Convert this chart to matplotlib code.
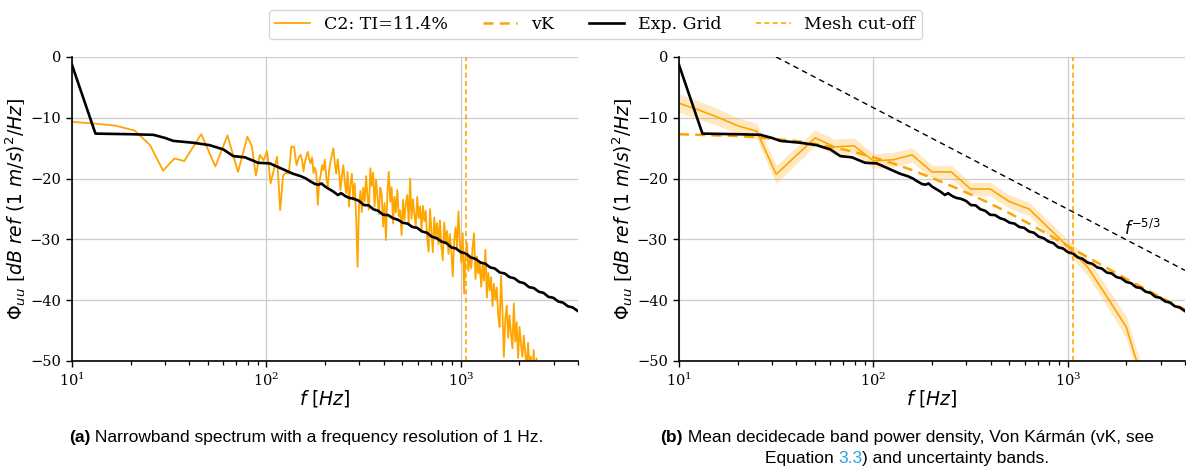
import numpy as np
import matplotlib
matplotlib.use("Agg")
import matplotlib.pyplot as plt

# ---------------- data ----------------
# Narrowband C2 spectrum (left panel)
nb_freq_low = [8.4, 12.6, 16.8, 21.0, 25.2, 29.4, 33.6, 37.8, 46.2, 54.6, 63.0, 71.4, 79.8, 84.0,
               88.2, 92.4, 96.6, 100.8, 105.0, 109.2, 113.4, 117.6, 121.8, 126.0, 130.2, 134.4,
               138.6, 142.8, 147.0]
nb_db_low = [-10.5, -10.9, -11.3, -12.1, -14.5, -18.7, -16.7, -17.1, -12.7, -18.0, -12.9, -18.9,
             -13.1, -14.6, -19.5, -16.1, -17.0, -15.5, -20.8, -18.5, -16.4, -25.2, -19.5, -19.0,
             -19.2, -14.7, -14.8, -17.8, -16.4]
nb_freq_high = np.geomspace(150, 2576, 170)
nb_db_high = [
    -16.1, -17.0, -18.8, -17.2, -16.3, -15.6, -16.8, -17.5, -16.5, -19.1,
    -18.2, -19.1, -24.3, -20.6, -19.5, -17.8, -18.6, -16.9, -19.8, -21.6,
    -18.5, -17.2, -16.0, -15.0, -17.5, -19.2, -16.8, -18.9, -21.9, -19.5,
    -17.8, -20.5, -22.4, -18.9, -24.6, -21.0, -19.2, -23.5, -20.8, -26.3,
    -34.5, -24.8, -22.0, -25.5, -21.5, -23.8, -19.6, -22.9, -25.1, -18.3,
    -21.2, -19.0, -24.6, -20.2, -23.0, -25.8, -21.5, -22.6, -27.9, -24.0,
    -30.1, -22.5, -18.9, -23.8, -21.4, -27.4, -23.0, -25.6, -21.9, -26.2,
    -25.2, -29.3, -23.5, -26.8, -24.1, -22.7, -27.5, -20.0, -26.6, -23.4,
    -25.9, -27.8, -23.0, -26.5, -24.6, -28.4, -24.5, -27.0, -25.3, -29.8,
    -32.0, -25.0, -28.6, -32.1, -26.4, -29.5, -27.3, -30.8, -26.9, -31.2,
    -33.4, -27.2, -30.5, -28.6, -32.4, -29.1, -31.8, -36.1, -30.2, -28.0,
    -31.5, -25.4, -30.3, -33.8, -29.0, -38.9, -32.5, -30.6, -35.2, -33.0,
    -34.8, -31.2, -29.0, -36.5, -32.8, -35.6, -33.9, -37.8, -34.0, -36.8,
    -31.7, -39.6, -35.5, -38.4, -36.2, -41.0, -37.3, -39.9, -37.9, -42.6,
    -44.4, -36.0, -41.8, -49.3, -43.0, -40.9, -46.2, -42.5, -45.5, -47.9,
    -40.5, -46.8, -43.6, -49.5, -44.4, -47.2, -49.3, -45.8, -48.6, -51.5,
    -47.0, -50.8, -49.3, -52.5, -48.2, -53.0, -49.6, -55.0, -57.0, -60.0]

# Experimental grid spectrum (both panels)
exp_freq = [10, 13.2, 20, 26.2, 30, 33.2, 42, 51, 60, 67.5, 77.5, 90.6, 104, 137, 150, 160, 167,
            178, 185, 192, 200, 207, 220, 233, 242, 255, 268, 280, 291,
            300, 317, 335, 355, 376, 398, 422, 447, 473, 501, 531, 562, 596, 631, 668, 708, 750,
            794, 841, 891, 944, 1000, 1059, 1122, 1189, 1259, 1334, 1413, 1496, 1585, 1679, 1778,
            1884, 1995, 2113, 2239, 2371, 2512, 2661, 2818, 2985, 3162, 3350, 3548, 3758, 3981]
exp_db = [-1.3, -12.6, -12.7, -12.8, -13.3, -13.8, -14.1, -14.5, -15.2, -16.3, -16.5, -17.4, -17.5,
          -19.2, -19.6, -20.0, -20.4, -20.9, -21.0, -20.8, -21.3, -21.6, -22.1, -22.7, -22.4,
          -22.9, -23.2, -23.3, -23.5,
          -23.7, -24.35, -24.4, -25.05, -25.3, -25.95, -26.0, -26.5, -26.75, -27.25, -27.4,
          -27.95, -28.1, -28.7, -28.9, -29.55, -29.8, -30.35, -30.6, -31.3, -31.5, -32.1, -32.3,
          -32.95, -33.2, -33.8, -34.0, -34.6, -34.8, -35.45, -35.6, -36.2, -36.4, -37.0, -37.2,
          -37.85, -38.0, -38.6, -38.8, -39.45, -39.6, -40.2, -40.4, -41.0, -41.2, -41.75]

# Decidecade bands (right panel)
band_freq = [10, 12.6, 15.8, 20, 25.1, 31.6, 39.8, 50.1, 63.1, 79.4, 100, 126, 158, 200, 251, 316,
             398, 501, 631, 794, 1000, 1259, 1585, 1995, 2512, 3162]
band_db = [-7.6, -8.7, -9.9, -11.3, -12.2, -19.3, -16.3, -13.3, -14.8, -14.6, -17.1, -16.9, -16.1,
           -18.9, -18.9, -21.7, -21.7, -23.8, -25.0, -28.1, -31.2, -34.5, -39.4, -44.4, -55.0, -65.0]
band_unc = [1.5, 1.5, 1.4, 1.3, 1.3, 1.5, 1.4, 1.3, 1.3, 1.3, 1.2, 1.2, 1.2, 1.1, 1.1, 1.1, 1.1,
            1.1, 1.1, 1.2, 1.2, 1.4, 1.6, 1.8, 2.0, 2.0]

# Von Karman model (right panel)
vk_freq = [10, 12.6, 15.8, 20, 25.1, 31.6, 39.8, 50.1, 63.1, 79.4, 100, 126, 158, 200, 251, 316,
           398, 501, 631, 794, 1000, 1259, 1585, 1995, 2512, 3162, 3981]
vk_db = [-12.7, -12.8, -12.9, -13.0, -13.2, -13.5, -13.8, -14.3, -14.9, -15.6, -16.5, -17.5, -18.6,
         -19.9, -21.2, -22.6, -24.1, -25.7, -27.4, -29.2, -31.1, -32.9, -34.7, -36.5, -38.2,
         -39.9, -41.5]

# f^-5/3 reference slope
ref_freq = [31.6, 4000]
ref_db = [0.0, -35.1]

mesh_cutoff = 1065
f_lim = (10, 4000)
db_lim = (-50, 0)

ORANGE = '#FFA500'

plt.rcParams['font.family'] = ['DejaVu Serif']
plt.rcParams['mathtext.fontset'] = 'dejavusans'

fig = plt.figure(figsize=(11.86, 4.70), dpi=100)
W, H = 1186, 470
axL = fig.add_axes([72 / W, 1 - 361 / H, 506 / W, 304 / H])
axR = fig.add_axes([679 / W, 1 - 361 / H, 506 / W, 304 / H])

nb_freq = list(nb_freq_low) + list(nb_freq_high)
nb_db = list(nb_db_low) + list(nb_db_high)

for ax in (axL, axR):
    ax.set_xscale('log')
    ax.set_xlim(*f_lim)
    ax.set_ylim(*db_lim)
    ax.grid(True, which='major', color='#cccccc', linewidth=0.9)
    ax.set_axisbelow(True)
    for s in ('top', 'right'):
        ax.spines[s].set_visible(False)
    for s in ('left', 'bottom'):
        ax.spines[s].set_linewidth(1.2)
    ax.tick_params(axis='both', which='major', labelsize=10.5, length=4.5, width=1.0)
    ax.tick_params(axis='x', which='minor', length=3, width=0.9)
    ax.set_yticks([0, -10, -20, -30, -40, -50])
    ax.set_xlabel(r'$f\ [Hz]$', fontsize=13.5, labelpad=-1)
    ax.set_ylabel(r'$\Phi_{uu}$ [$dB\ ref\ (1\ m/s)^2/Hz$]', fontsize=13.5, labelpad=1)

# Left panel
l_c2, = axL.plot(nb_freq, nb_db, color=ORANGE, lw=1.3, label='C2: TI=11.4%')
l_exp, = axL.plot(exp_freq, exp_db, color='black', lw=1.9, label='Exp. Grid')
l_mesh = axL.axvline(mesh_cutoff, color=ORANGE, lw=1.2, ls=(0, (3, 2)), label='Mesh cut-off')

# Right panel
lo = [v - u for v, u in zip(band_db, band_unc)]
hi = [v + u for v, u in zip(band_db, band_unc)]
axR.fill_between(band_freq, lo, hi, color=ORANGE, alpha=0.24, lw=0)
axR.plot(band_freq, band_db, color=ORANGE, lw=1.2)
l_vk, = axR.plot(vk_freq, vk_db, color=ORANGE, lw=1.8, ls=(0, (4, 2.5)), label='vK')
axR.plot(exp_freq, exp_db, color='black', lw=1.9)
axR.axvline(mesh_cutoff, color=ORANGE, lw=1.2, ls=(0, (3, 2)))
axR.plot(ref_freq, ref_db, color='black', lw=1.0, ls=(0, (4, 3)))
axR.text(1950, -28.3, r'$f^{-5/3}$', fontsize=12, ha='left', va='center')

fig.legend([l_c2, l_vk, l_exp, l_mesh], ['C2: TI=11.4%', 'vK', 'Exp. Grid', 'Mesh cut-off'],
           loc='upper center', bbox_to_anchor=(0.502, 0.997), ncol=4, fontsize=12.5,
           frameon=True, edgecolor='#cccccc', handlelength=2.0, columnspacing=2.0,
           borderpad=0.35)

# Captions with mixed styles
renderer = fig.canvas.get_renderer()
CAP_FONT = ['Liberation Sans Narrow', 'DejaVu Sans Condensed', 'Liberation Sans', 'DejaVu Sans']
CAP_SIZE = 12.5


def rich_line(pieces, xc, y):
    texts = []
    for s, weight, color in pieces:
        t = fig.text(0, y, s, fontsize=CAP_SIZE, family=CAP_FONT, fontweight=weight,
                     color=color, ha='left', va='baseline')
        texts.append(t)
    widths = [t.get_window_extent(renderer).width / W for t in texts]
    total = sum(widths)
    x = xc - total / 2
    for t, w in zip(texts, widths):
        t.set_x(x)
        x += w


rich_line([('(a)', 'bold', 'black'),
           (' Narrowband spectrum with a frequency resolution of 1 Hz.', 'normal', 'black')],
          306 / W, 1 - 442 / H)
rich_line([('(b)', 'bold', 'black'),
           (' Mean decidecade band power density, Von Kármán (vK, see', 'normal', 'black')],
          907 / W, 1 - 442 / H)
rich_line([('Equation ', 'normal', 'black'), ('3.3', 'normal', '#29a3e0'),
           (') and uncertainty bands.', 'normal', 'black')],
          907 / W, 1 - 463 / H)

fig.savefig('out.png', dpi=100)
